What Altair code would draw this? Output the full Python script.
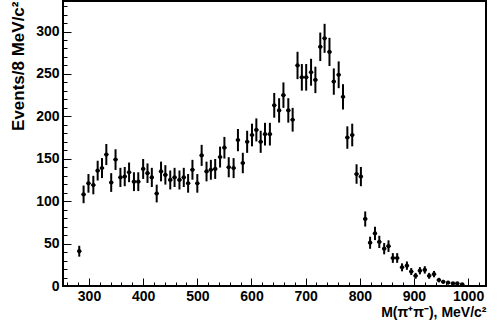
import altair as alt
import numpy as np
import pandas as pd

# bin centres (MeV/c^2) and event counts
mass = [282, 290, 299, 308, 316, 324, 332, 341, 349, 358,
        366, 374, 383, 391, 400, 408, 416, 425, 433, 441,
        450, 458, 467, 475, 483, 491, 500, 508, 517, 525,
        533, 542, 550, 558, 567, 575, 584, 592, 601, 609,
        617, 625, 634, 642, 651, 659, 668, 676, 685, 693,
        701, 710, 718, 727, 735, 744, 752, 761, 769, 777,
        786, 794, 802, 810, 819, 828, 836, 845, 853, 861,
        869, 878, 887, 895, 903, 911, 920, 928, 937, 946,
        954, 963, 972, 980, 989]
events = [41, 108, 121, 119, 136, 139, 155, 122, 149, 128,
          129, 134, 123, 123, 138, 133, 128, 109, 135, 131,
          125, 128, 125, 128, 121, 137, 121, 154, 135, 137,
          138, 152, 163, 140, 139, 172, 145, 170, 178, 184,
          170, 179, 179, 213, 207, 225, 207, 196, 260, 246,
          246, 252, 243, 282, 292, 276, 241, 249, 223, 175,
          178, 132, 129, 79, 51, 62, 52, 44, 47, 33,
          33, 22, 24, 17, 12, 18, 19, 12, 14, 7,
          5, 4, 3, 3, 2]

x_major = [300, 400, 500, 600, 700, 800, 900, 1000]
x_minor = list(range(260, 1033, 20))
y_major = [0, 50, 100, 150, 200, 250, 300]
y_minor = list(range(10, 336, 10))

half_bin = 4

df = pd.DataFrame({"mass": mass, "events": events})
err = np.sqrt(df["events"])
df["lo"] = df["events"] - err
df["hi"] = df["events"] + err
df["xlo"] = df["mass"] - half_bin
df["xhi"] = df["mass"] + half_bin

FONT = "Liberation Sans"
xscale = alt.Scale(domain=[252, 1033], nice=False, zero=False)
yscale = alt.Scale(domain=[0, 336], nice=False, zero=False)

common = dict(grid=False, domain=False, tickColor="black", tickWidth=1,
              labelFont=FONT, labelFontSize=14, labelFontWeight="bold",
              labelColor="black", titleFont=FONT,
              titleFontWeight="bold", titleColor="black")

x_axis_major = alt.Axis(values=x_major, orient="bottom", offset=-8, tickSize=8,
                        labelPadding=3, labelFlush=False, format="d",
                        title="M(π⁺π⁻), MeV/c²", titleAnchor="end",
                        titleFontSize=14, titlePadding=2, **common)
y_axis_major = alt.Axis(values=y_major, orient="left", offset=-8, tickSize=8,
                        labelPadding=4, format="d",
                        title="Events/8 MeV/c²", titleAnchor="end",
                        titleFontSize=17, titlePadding=8, **common)
x_axis_minor = alt.Axis(values=x_minor, orient="bottom", offset=-4, tickSize=4,
                        labels=False, title=None, **common)
y_axis_minor = alt.Axis(values=y_minor, orient="left", offset=-4, tickSize=4,
                        labels=False, title=None, **common)

base = alt.Chart(df)

vbars = base.mark_rule(color="black", strokeWidth=2).encode(
    x=alt.X("mass:Q", scale=xscale, axis=x_axis_major),
    y=alt.Y("lo:Q", scale=yscale, axis=y_axis_major),
    y2="hi:Q",
)
hbars = base.mark_rule(color="black", strokeWidth=1.5).encode(
    x=alt.X("xlo:Q", scale=xscale, axis=x_axis_minor),
    x2="xhi:Q",
    y=alt.Y("events:Q", scale=yscale, axis=y_axis_minor),
)
points = base.mark_circle(color="black", size=18, opacity=1).encode(
    x=alt.X("mass:Q", scale=xscale, axis=None),
    y=alt.Y("events:Q", scale=yscale, axis=None),
)

chart = alt.layer(vbars, hbars, points).resolve_axis(
    x="independent", y="independent"
).properties(
    width=423, height=285,
    autosize=alt.AutoSizeParams(type="none"),
    padding={"left": 63, "top": 1, "right": 11, "bottom": 42},
    background="white",
).configure_view(stroke="black", strokeWidth=2)

chart.save("out.html", embed_options={"renderer": "svg", "actions": False})
